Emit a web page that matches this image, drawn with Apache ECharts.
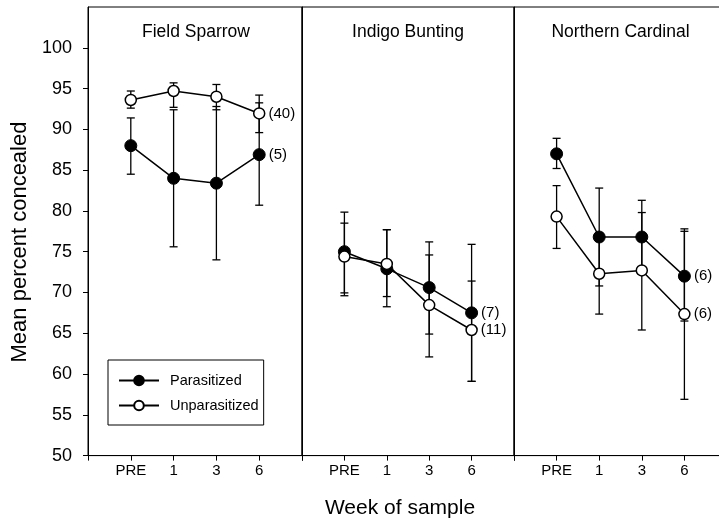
<!DOCTYPE html>
<html>
<head>
<meta charset="utf-8">
<script src="https://cdn.jsdelivr.net/npm/echarts@6/dist/echarts.min.js"></script>
<style>html,body{margin:0;padding:0;background:#fff}#c{width:719px;height:521px}</style>
</head>
<body>
<div id="c"></div>
<script>
// ---- data ----
var species = ['Field Sparrow', 'Indigo Bunting', 'Northern Cardinal'];
var weeks = ['PRE', '1', '3', '6'];
var yTicks = [50, 55, 60, 65, 70, 75, 80, 85, 90, 95, 100];

var parMean = [[88.0, 84.0, 83.4, 86.9], [75.0, 72.9, 70.6, 67.5], [87.0, 76.8, 76.8, 72.0]];
var parLow  = [[84.5, 75.6, 74.0, 80.7], [69.95, 68.25, 64.9, 59.1], [85.2, 70.8, 72.3, 66.5]];
var parHigh = [[91.4, 92.4, 92.8, 93.25], [79.85, 77.7, 76.2, 75.9], [88.9, 82.8, 81.3, 77.5]];

var unpMean = [[93.6, 94.7, 94.0, 91.95], [74.4, 73.5, 68.45, 65.4], [79.3, 72.3, 72.7, 67.35]];
var unpLow  = [[92.6, 92.7, 92.4, 89.6], [69.6, 69.5, 62.1, 59.1], [75.4, 67.35, 65.4, 56.9]];
var unpHigh = [[94.7, 95.7, 95.5, 94.2], [78.5, 77.7, 74.6, 71.4], [83.1, 77.3, 79.8, 77.8]];

var nPar = ['(5)', '(7)', '(6)'];
var nUnp = ['(40)', '(11)', '(6)'];

// ---- chart ----
var FONT = '"Liberation Sans", Arial, Helvetica, sans-serif';
var panelLeft = [88, 302, 514];
var panelWidth = [214, 212, 213];
var gridTop = 7, gridHeight = 448.6;

var grids = [], xAxes = [], yAxes = [], series = [];

function errRender(params, api) {
  var x = api.value(0);
  var lo = api.coord([x, api.value(1)]);
  var hi = api.coord([x, api.value(2)]);
  var w = 4;
  var st = { stroke: '#000', lineWidth: 1.3 };
  return {
    type: 'group',
    children: [
      { type: 'line', shape: { x1: lo[0], y1: lo[1], x2: hi[0], y2: hi[1] }, style: st },
      { type: 'line', shape: { x1: lo[0] - w, y1: lo[1], x2: lo[0] + w, y2: lo[1] }, style: st },
      { type: 'line', shape: { x1: hi[0] - w, y1: hi[1], x2: hi[0] + w, y2: hi[1] }, style: st }
    ]
  };
}

for (var p = 0; p < 3; p++) {
  grids.push({
    left: panelLeft[p], top: gridTop, width: panelWidth[p], height: gridHeight,
    outerBoundsMode: 'none', containLabel: false,
    show: true, borderColor: '#000', borderWidth: 1, backgroundColor: 'transparent'
  });
  xAxes.push({
    gridIndex: p, type: 'value', min: 0, max: 5, interval: 1,
    axisLine: { show: true, lineStyle: { color: '#000', width: 1 } },
    axisTick: { show: true, inside: false, length: 5, lineStyle: { color: '#000' } },
    splitLine: { show: false },
    axisLabel: {
      color: '#000', fontSize: 15, fontFamily: FONT, margin: 8,
      formatter: function (v) { return weeks[v - 1] || ''; }
    }
  });
  yAxes.push({
    gridIndex: p, type: 'value', min: 50, max: 105, interval: 5,
    axisLine: { show: true, lineStyle: { color: '#000', width: 1 } },
    axisTick: { show: p === 0, inside: false, length: 5, lineStyle: { color: '#000' }, customValues: yTicks },
    splitLine: { show: false },
    axisLabel: {
      show: p === 0, color: '#000', fontSize: 18, fontFamily: FONT, margin: 16,
      customValues: yTicks,
      formatter: function (v) { return v > 100 ? '' : String(v); }
    }
  });

  var parErr = [], unpErr = [], parData = [], unpData = [];
  for (var i = 0; i < weeks.length; i++) {
    parErr.push([i + 1, parLow[p][i], parHigh[p][i]]);
    unpErr.push([i + 1, unpLow[p][i], unpHigh[p][i]]);
    var pd = { value: [i + 1, parMean[p][i]] };
    var ud = { value: [i + 1, unpMean[p][i]] };
    if (i === weeks.length - 1) {
      pd.label = { show: true, position: 'right', distance: 3, formatter: nPar[p], color: '#000', fontSize: 15, fontFamily: FONT };
      ud.label = { show: true, position: 'right', distance: 3, formatter: nUnp[p], color: '#000', fontSize: 15, fontFamily: FONT };
    }
    parData.push(pd);
    unpData.push(ud);
  }
  series.push({ type: 'custom', xAxisIndex: p, yAxisIndex: p, renderItem: errRender, data: parErr, z: 1, silent: true });
  series.push({ type: 'custom', xAxisIndex: p, yAxisIndex: p, renderItem: errRender, data: unpErr, z: 1, silent: true });
  series.push({
    name: 'Parasitized', type: 'line', xAxisIndex: p, yAxisIndex: p, data: parData, z: 3,
    symbol: 'circle', symbolSize: 12,
    lineStyle: { color: '#000', width: 1.5 },
    itemStyle: { color: '#000', borderColor: '#000', borderWidth: 1 }
  });
  series.push({
    name: 'Unparasitized', type: 'line', xAxisIndex: p, yAxisIndex: p, data: unpData, z: 4,
    symbol: 'circle', symbolSize: 11,
    lineStyle: { color: '#000', width: 1.5 },
    itemStyle: { color: '#fff', borderColor: '#000', borderWidth: 1.5 }
  });
}

var graphics = species.map(function (s, p) {
  return {
    type: 'text', x: panelLeft[p] + panelWidth[p] / 2 + (p === 0 ? 1 : 0), y: 32,
    style: { text: s, fill: '#000', font: '17.5px ' + FONT, textAlign: 'center', textVerticalAlign: 'middle' }
  };
});
graphics.push({
  type: 'text', x: 20, y: 242, rotation: Math.PI / 2,
  style: { text: 'Mean percent concealed', fill: '#000', font: '22px ' + FONT, textAlign: 'center', textVerticalAlign: 'middle' }
});
graphics.push({
  type: 'text', x: 400, y: 508,
  style: { text: 'Week of sample', fill: '#000', font: '21px ' + FONT, textAlign: 'center', textVerticalAlign: 'middle' }
});

var chart = echarts.init(document.getElementById('c'), null, { renderer: 'canvas' });
chart.setOption({
  animation: false,
  backgroundColor: '#fff',
  textStyle: { fontFamily: FONT },
  grid: grids,
  xAxis: xAxes,
  yAxis: yAxes,
  legend: {
    data: ['Parasitized', 'Unparasitized'],
    orient: 'vertical', left: 108, top: 360,
    itemWidth: 40, itemHeight: 12, itemGap: 10,
    padding: [13, 5, 12, 10],
    borderColor: '#000', borderWidth: 1, borderRadius: 0,
    backgroundColor: '#fff',
    textStyle: { color: '#000', fontSize: 14.5, fontFamily: FONT, padding: [0, 0, 0, 6] },
    selectedMode: false
  },
  graphic: graphics,
  series: series
});
</script>
</body>
</html>
